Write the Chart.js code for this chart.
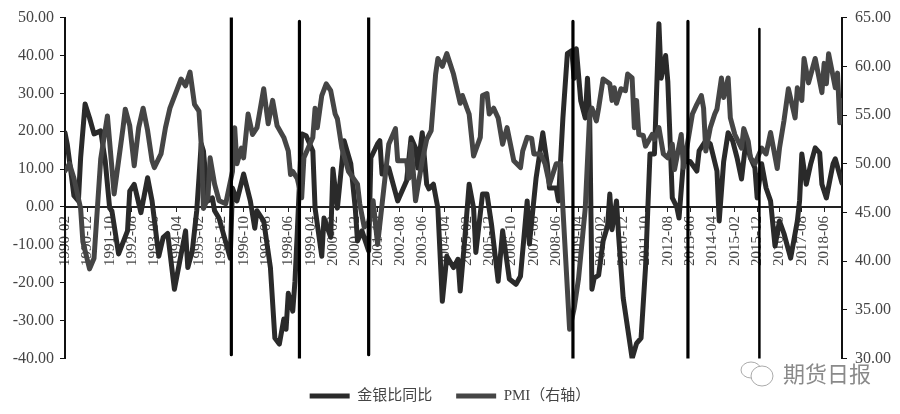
<!DOCTYPE html>
<html><head><meta charset="utf-8">
<style>html,body{margin:0;padding:0;background:#fff}canvas{display:block;filter:blur(0.4px)}</style>
<script src="https://cdn.jsdelivr.net/npm/chart.js@4"></script>
</head><body><canvas id="c" width="900" height="414"></canvas>
<script>
const tickLabels=["1990-02","1990-12","1991-10","1992-08","1993-06","1994-04","1995-02","1995-12","1996-10","1997-08","1998-06","1999-04","2000-02","2000-12","2001-10","2002-08","2003-06","2004-04","2005-02","2005-12","2006-10","2007-08","2008-06","2009-04","2010-02","2010-12","2011-10","2012-08","2013-06","2014-04","2015-02","2015-12","2016-10","2017-08","2018-06"];
const ratioMonths=[0,1,3,4,6,7,9,11,13,16,18,20,21,24,28,29,31,34,37,39,42,44,46,49,54,55,57,59,60,61,62,64,66,67,69,74,75,77,80,83,85,86,89,92,94,96,98,99,100,102,103,104,106,108,111,112,115,116,119,120,122,125,128,130,131,133,136,137,140,141,142,145,149,153,155,157,158,160,162,163,165,167,169,171,174,176,177,179,181,183,184,187,189,191,194,196,199,202,204,207,208,211,214,216,217,220,221,223,225,227,228,229,231,233,234,235,236,237,239,241,243,244,245,247,248,250,254,256,258,260,262,264,266,267,269,270,272,274,275,277,280,283,284,287,289,292,293,295,297,299,301,303,305,307,309,310,312,314,316,318,320,322,325,328,329,330,332,334,336,338,339,341,344,345,348];
const ratioValues=[19.6,16.6,7.7,3,1.6,13,27.2,23.5,19.3,20.1,12.2,-0.3,-1,-12.4,-6.3,4.2,6,-1.5,7.7,1.6,-13,-8,-7,-21.7,-6.3,-16,-11.6,-1,7.7,16.7,14.8,1.6,2.4,-1,-3,-13.5,5,1.6,8.7,1.6,-5.6,-1,-3.7,-16,-34.6,-36.2,-29.6,-32.3,-22.8,-27.5,-19.6,-7.1,19.3,18.8,14.8,-0.3,-13,-2.9,-8,10,-0.3,17.5,11.4,-0.3,-9,-6.3,-11.6,13,16.7,17.5,8.7,10.3,1.6,6.9,18.3,15.6,10.3,19.6,6,4.8,6,-0.3,-24.9,-13,-16,-13.8,-22.2,-8.8,6,-0.3,-12,3.4,3.4,-4.5,-19.6,-6.3,-19,-20.4,-18.3,1.6,-9.8,7.7,19.6,11.4,5,5,1.6,23.5,40.5,41.3,34,41.8,28,23.5,34,23.5,-21.7,-18.8,-18,-9,-5,3.4,-6,1.6,-8,-24,-40,-36,-34.6,-16,14,14,48.4,34,40,33,2.4,0,-2.9,12,12,9.5,14.8,17.5,16.7,9.5,-3.7,12,19.6,17.5,13,7.4,17.5,13,10.3,2.4,11.4,5,1.6,-10.3,-3.7,-7,-13.5,-3.7,1.6,14,6,11.4,15.6,14.3,6,2.4,11.4,12.7,6.3];
const pmiMonths=[0,2,4,7,8,11,13,16,19,22,26,27,29,31,33,35,37,39,40,43,45,47,50,52,54,56,58,60,61,62,64,65,67,69,72,75,76,77,79,80,82,84,86,89,91,93,95,98,100,101,102,104,106,107,111,112,113,115,117,119,121,122,124,127,131,132,134,136,138,140,145,148,149,153,154,155,157,160,162,164,166,167,169,171,174,177,178,180,181,183,186,187,189,190,192,194,196,198,201,204,205,207,209,210,213,215,217,220,222,223,226,228,230,233,235,236,238,239,241,244,245,246,247,249,251,252,254,255,256,257,259,260,263,264,266,268,270,272,273,276,277,281,283,285,286,287,289,291,292,294,295,297,298,300,303,304,306,307,309,312,314,316,319,320,322,324,327,328,330,331,333,336,339,340,341,342,345,346,347,348];
const pmiValues=[49.25,50,48.5,45.4,42,39.2,40.3,50.5,54.9,46.9,53.7,55.6,53.9,49.8,53.7,55.7,53.4,50.3,49.6,51,53.7,55.7,57.5,58.7,58,59.4,56.1,55.4,52,45.4,46.5,50.6,47.9,46.2,45.9,49.2,53.7,50,51.6,50.6,55.1,53,53.7,57.7,54.1,56.5,53.9,52.7,51.3,48.9,49.2,48.5,46.5,50.6,52.7,55.7,53.7,57,58.2,57.5,55.1,54.6,51.6,49.2,47.9,45.9,43.5,44,46.2,41.7,52,53.6,50.3,50.3,48.5,52,46.2,50.3,52.5,53.4,59.2,60.8,60,61.3,59.2,56.2,57,55.7,55.1,50.8,52.7,57,57.2,55.1,55.7,54.7,52,53.7,50.3,49.6,51.3,52.7,52.6,51,51,50,47.9,50,50,45.4,33,35.1,38.2,45.4,55.1,55.7,54.4,55.7,58.7,58.2,56.5,57.8,56.2,57.7,57.5,59.2,58.8,53.7,56.5,53,52.9,51.8,53,52.5,53.7,51,50.6,52,49.4,53,49.6,55.1,56.1,57,55.7,51.3,53.7,55.1,55.6,58.8,56.8,58.8,54.7,53,51.6,53.6,52.3,50.6,50,51.6,51,53.2,49.5,51.6,54.4,57.7,54.7,57.8,56.5,60.8,58.3,60.8,57.3,60.3,58.2,61.3,57.8,59.3,54.2,56.5];
const eventMonths=[74.5,105,136,227.5,279,311];
const eventTops=[50,49,50,49,49,47];
const eventBottoms=[-39,-40,-39,-40,-40,-40];
const seriesNames=["金银比同比","PMI（右轴）"];
const watermark="期货日报";

const serif='"Liberation Serif","Noto Sans CJK SC",serif';
const zip=(a,b)=>a.map((x,i)=>({x,y:b[i]}));
const lineBase={pointRadius:0,fill:false,tension:0,borderJoinStyle:'round',borderCapStyle:'round'};
const events=eventMonths.map((m,i)=>({...lineBase,label:'e'+i,yAxisID:'y',
  data:[{x:m,y:eventTops[i]},{x:m,y:eventBottoms[i]}],borderColor:'#000',backgroundColor:'#000',
  borderWidth:i===5?2.5:3.2,borderCapStyle:'butt',order:0}));
const wm={id:'wm',
 afterLayout(ch){ch.legend.top+=6;ch.legend.bottom+=6;},
 afterDraw(ch){
  const c=ch.ctx;c.save();
  c.fillStyle='#8a8a8a';c.font='22px "Noto Sans CJK SC"';c.textBaseline='middle';c.textAlign='left';
  c.fillText(watermark,783,374);
  c.strokeStyle='#aaa';c.lineWidth=1;
  c.beginPath();c.ellipse(751,370,10,8,0,0,Math.PI*2);c.stroke();
  c.fillStyle='#fff';
  c.beginPath();c.ellipse(762,376,11,10,0,0,Math.PI*2);c.fill();c.stroke();
  c.restore();
}};
new Chart(document.getElementById('c'),{
  type:'line',
  data:{datasets:[
    {...lineBase,label:seriesNames[0],yAxisID:'y',data:zip(ratioMonths,ratioValues),borderColor:'#2a2a2a',backgroundColor:'#2a2a2a',borderWidth:5,order:3},
    {...lineBase,label:seriesNames[1],yAxisID:'y2',data:zip(pmiMonths,pmiValues),borderColor:'#454545',backgroundColor:'#454545',borderWidth:5,order:2},
    ...events
  ]},
  plugins:[wm],
  options:{
    responsive:false,animation:false,
    layout:{padding:{top:17,bottom:6.5,left:0,right:0}},
    plugins:{
      tooltip:{enabled:false},
      legend:{position:'bottom',align:'center',
        labels:{filter:it=>it.datasetIndex<2,sort:(a,b)=>a.datasetIndex-b.datasetIndex,usePointStyle:true,pointStyle:'line',pointStyleWidth:40,
          font:{family:serif,size:15},color:'#444',padding:24,boxHeight:15}}
    },
    scales:{
      x:{type:'linear',min:0,max:348,position:{y:0},
        grid:{display:true,drawOnChartArea:false,drawTicks:true,tickLength:4,color:'#222'},
        border:{color:'#222',width:2},
        afterBuildTicks(s){s.ticks=tickLabels.map((_,i)=>({value:i*10}));},
        ticks:{autoSkip:false,maxRotation:90,minRotation:90,color:'#444',padding:5,
          font:{family:serif,size:15},callback:v=>tickLabels[v/10]}},
      y:{position:'left',min:-40,max:50,afterFit(s){s.width=65;},
        grid:{display:true,drawOnChartArea:false,tickLength:5,color:'#111'},
        border:{color:'#111',width:2},
        ticks:{stepSize:10,color:'#444',padding:6,font:{family:serif,size:16},callback:v=>v.toFixed(2)}},
      y2:{position:'right',min:30,max:65,afterFit(s){s.width=58;},
        grid:{display:true,drawOnChartArea:false,tickLength:5,color:'#111'},
        border:{color:'#111',width:2},
        ticks:{stepSize:5,color:'#444',padding:8,font:{family:serif,size:16},callback:v=>v.toFixed(2)}}
    }
  }
});
</script></body></html>
